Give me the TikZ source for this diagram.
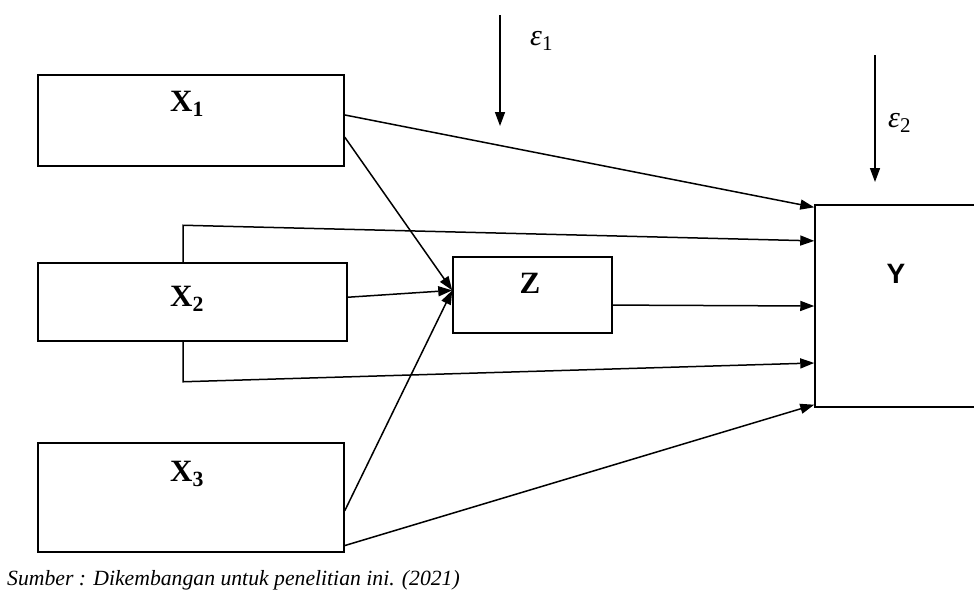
\documentclass[tikz,border=0pt]{standalone}
\usepackage{fontspec}
\setmainfont{Liberation Serif}
\newfontfamily\lsans{Liberation Sans}
\usetikzlibrary{arrows.meta,calc}
\begin{document}
\begin{tikzpicture}[x=1pt,y=-1pt,
  box/.style={draw,line width=1.5pt,rectangle,inner sep=0pt},
  lbl/.style={font=\fontsize{31}{33}\selectfont\bfseries,inner sep=0pt},
  eps/.style={inner sep=0pt,font=\fontsize{30}{32}\selectfont},
  conn/.style={line width=1.5pt,-{Triangle[length=14pt,width=10pt]}}]
\useasboundingbox (0,0) rectangle (974,606);
% boxes
\node[box,minimum width=306pt,minimum height=91pt] (x1) at (191,120.5) {};
\node[box,minimum width=309pt,minimum height=78pt] (x2) at (192.5,302) {};
\node[box,minimum width=306pt,minimum height=109pt] (x3) at (191,497.5) {};
\node[box,minimum width=159pt,minimum height=76pt] (z) at (532.5,295) {};
\node[box,minimum width=190pt,minimum height=202pt] (y) at (910,306) {};
% labels
\node[lbl,anchor=base west] (tx1) at (170,111) {X\textsubscript{1}};
\node[lbl,anchor=base west] (tx2) at (170,306) {X\textsubscript{2}};
\node[lbl,anchor=base west] (tx3) at (170,481) {X\textsubscript{3}};
\node[lbl,anchor=base] (tz) at (530,293) {Z};
\node[lbl,anchor=base,font=\fontsize{28}{30}\selectfont\bfseries\lsans] (ty) at (896,283) {Y};
% epsilon arrows
\coordinate (e1s) at (500,15);
\coordinate (e1e) at (500,126);
\coordinate (e2s) at (875,55);
\coordinate (e2e) at (875,182);
\draw[conn] (e1s) -- (e1e);
\draw[conn] (e2s) -- (e2e);
\node[eps,anchor=base west] (eps1) at (530,45) {\textit{ε}\textsubscript{1}};
\node[eps,anchor=base west] (eps2) at (888,127) {\textit{ε}\textsubscript{2}};
% anchor points
\coordinate (x1a) at ($(x1.north east)!0.44!(x1.south east)$);
\coordinate (x1b) at ($(x1.north east)!0.68!(x1.south east)$);
\coordinate (x2a) at ($(x2.north east)!0.44!(x2.south east)$);
\coordinate (x3a) at ($(x3.north east)!0.62!(x3.south east)$);
\coordinate (x3b) at ($(x3.north east)!0.935!(x3.south east)$);
\coordinate (za) at ($(z.north west)!0.44!(z.south west)$);
\coordinate (zb) at ($(z.north east)!0.63!(z.south east)$);
\coordinate (y1) at ($(y.north west)!0.015!(y.south west)$);
\coordinate (y2) at ($(y.north west)!0.18!(y.south west)$);
\coordinate (y3) at ($(y.north west)!0.5!(y.south west)$);
\coordinate (y4) at ($(y.north west)!0.78!(y.south west)$);
\coordinate (y5) at ($(y.north west)!0.985!(y.south west)$);
\coordinate (x2t) at ($(x2.north west)!0.47!(x2.north east)$);
\coordinate (x2b) at ($(x2.south west)!0.47!(x2.south east)$);
% connectors
\draw[conn] (x1a) -- (y1);
\draw[conn] (x1b) -- (za);
\draw[conn] (x2a) -- (za);
\draw[conn] (x3a) -- (za);
\draw[conn] (x3b) -- (y5);
\draw[conn] (zb) -- (y3);
\draw[conn] (x2t) -- ++(0,-37) -- (y2);
\draw[conn] (x2b) -- ++(0,40) -- (y4);
% caption
\node[anchor=west,inner sep=0pt,font=\fontsize{21.7}{24}\selectfont\itshape] (cap) at (7,580) {Sumber : Dikembangan untuk penelitian ini. (2021)};
\end{tikzpicture}
\end{document}
